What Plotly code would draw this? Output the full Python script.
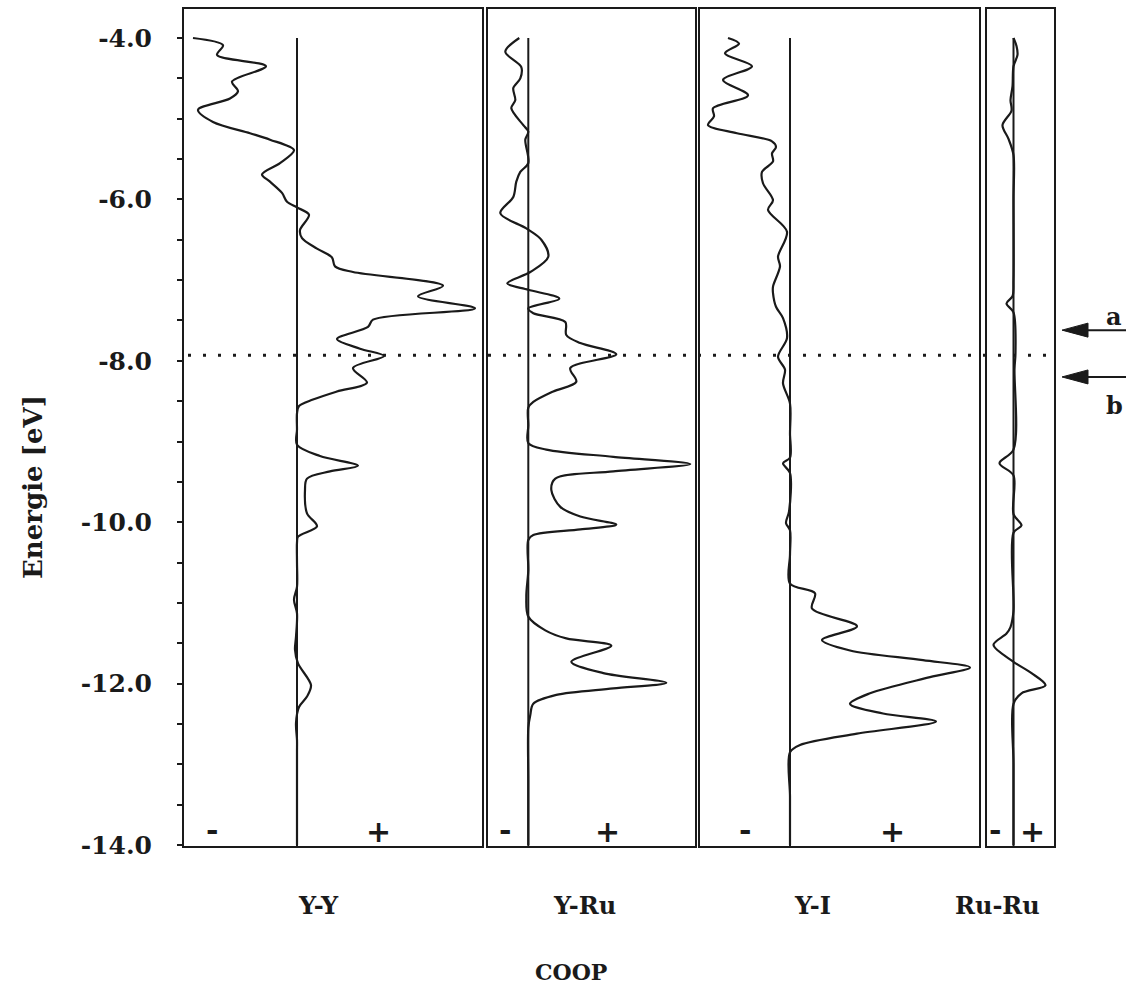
import plotly.graph_objects as go

W, H = 1132, 994

# ---------------- data (COOP in arbitrary units, energy in eV) ----------------
e_yy = [-4.00, -4.09, -4.21, -4.35, -4.54, -4.66, -4.75, -4.89, -5.04, -5.18, -5.26, -5.39,
        -5.55, -5.69, -5.78, -5.92, -6.03, -6.10, -6.19, -6.38, -6.48, -6.61, -6.72, -6.83,
        -6.90, -7.07, -7.20, -7.35, -7.49, -7.58, -7.73, -7.85, -7.94, -8.09, -8.27, -8.38,
        -8.48, -8.56, -8.65, -8.85, -9.04, -9.18, -9.30, -9.37, -9.46, -9.60, -9.89, -10.05,
        -10.18, -10.25, -10.50, -10.80, -10.96, -11.13, -11.42, -11.58, -11.75, -12.02, -12.16,
        -12.29, -12.49, -12.70, -12.85, -13.40, -14.00]
c_yy = [-1.04, -0.74, -0.80, -0.31, -0.65, -0.59, -0.67, -0.99, -0.84, -0.47, -0.27, -0.03,
        -0.17, -0.35, -0.27, -0.15, -0.10, 0.00, 0.12, 0.03, 0.05, 0.20, 0.35, 0.38,
        0.56, 1.46, 1.21, 1.78, 0.76, 0.71, 0.40, 0.63, 0.87, 0.56, 0.70, 0.40,
        0.16, 0.02, 0.00, 0.00, 0.00, 0.23, 0.61, 0.33, 0.10, 0.08, 0.10, 0.20,
        0.01, 0.00, 0.00, 0.00, -0.03, 0.00, -0.01, -0.02, 0.01, 0.14, 0.10,
        0.02, -0.01, 0.00, 0.00, 0.00, 0.00]

e_yru = [-4.00, -4.17, -4.36, -4.50, -4.62, -4.77, -4.87, -5.08, -5.16, -5.26, -5.55, -5.66,
         -5.78, -5.97, -6.17, -6.36, -6.50, -6.71, -6.90, -7.04, -7.12, -7.23, -7.35, -7.41,
         -7.52, -7.68, -7.78, -7.92, -8.09, -8.26, -8.38, -8.51, -8.58, -8.80, -9.02, -9.10,
         -9.19, -9.28, -9.37, -9.46, -9.60, -9.81, -9.93, -10.03, -10.09, -10.16, -10.22,
         -10.60, -10.92, -11.17, -11.34, -11.44, -11.53, -11.73, -11.87, -11.99, -12.06,
         -12.14, -12.25, -12.39, -12.55, -13.20, -14.00]
c_yru = [-0.09, -0.23, -0.07, -0.08, -0.15, -0.13, -0.17, -0.05, 0.00, -0.03, 0.00, -0.08,
         -0.12, -0.15, -0.28, -0.02, 0.13, 0.20, 0.02, -0.21, 0.00, 0.31, 0.00, 0.05,
         0.37, 0.38, 0.52, 0.88, 0.42, 0.48, 0.25, 0.05, 0.00, 0.00, 0.00, 0.18,
         0.85, 1.62, 0.85, 0.27, 0.23, 0.32, 0.52, 0.88, 0.52, 0.05, 0.00,
         0.00, -0.02, 0.00, 0.17, 0.38, 0.83, 0.43, 0.75, 1.38, 0.85,
         0.28, 0.05, 0.02, 0.00, 0.00, 0.00]

e_yi = [-4.00, -4.07, -4.19, -4.35, -4.52, -4.71, -4.87, -4.97, -5.08, -5.18, -5.28, -5.35,
        -5.43, -5.53, -5.66, -5.80, -6.01, -6.13, -6.40, -6.71, -6.83, -7.08, -7.16, -7.33,
        -7.47, -7.72, -7.95, -8.11, -8.28, -8.53, -8.90, -9.20, -9.27, -9.39, -9.87, -10.01,
        -10.10, -10.40, -10.76, -10.88, -11.07, -11.29, -11.46, -11.59, -11.71, -11.80, -11.92,
        -12.12, -12.25, -12.37, -12.47, -12.62, -12.76, -12.85, -13.40, -14.00]
c_yi = [-0.62, -0.51, -0.65, -0.38, -0.67, -0.42, -0.77, -0.76, -0.82, -0.53, -0.18, -0.14,
        -0.18, -0.17, -0.28, -0.27, -0.17, -0.22, -0.03, -0.12, -0.10, -0.17, -0.17, -0.14,
        -0.07, -0.03, -0.12, -0.05, -0.07, 0.00, 0.00, 0.00, -0.07, 0.00, -0.01, -0.04,
        0.00, 0.00, 0.00, 0.25, 0.22, 0.67, 0.32, 0.60, 1.33, 1.80, 1.40,
        0.80, 0.60, 0.93, 1.46, 0.67, 0.10, 0.00, 0.00, 0.00]

e_ruru = [-4.00, -4.10, -4.21, -4.35, -4.60, -4.77, -4.90, -5.08, -5.25, -5.45, -6.00, -7.00,
          -7.20, -7.29, -7.40, -7.90, -8.10, -9.10, -9.27, -9.42, -9.90, -10.04, -10.13,
          -11.10, -11.30, -11.38, -11.52, -11.73, -11.87, -12.02, -12.12, -12.25, -13.00, -14.00]
c_ruru = [0.00, 0.03, 0.04, 0.00, -0.01, -0.03, -0.02, -0.11, -0.05, 0.00, 0.00, 0.00,
          -0.01, -0.07, 0.00, 0.02, 0.01, 0.00, -0.14, 0.00, 0.00, 0.08, 0.00,
          0.00, -0.03, -0.07, -0.20, 0.00, 0.18, 0.32, 0.08, 0.00, 0.00, 0.00]

panel_names = ["Y-Y", "Y-Ru", "Y-I", "Ru-Ru"]
y_ticks = [-4.0, -6.0, -8.0, -10.0, -12.0, -14.0]
y_ticktext = ["-4.0", "-6.0", "-8.0", "-10.0", "-12.0", "-14.0"]
fermi_level = -7.93
arrow_levels = {"a": -7.62, "b": -8.20}
axis_title = "Energie [eV]"
x_title = "COOP"

# ---------------- layout geometry (pixels) ----------------
panels = [
    dict(E=e_yy, C=c_yy, left=184, right=482, zero=297, lbl_x=318, minus_x=212, plus_x=378),
    dict(E=e_yru, C=c_yru, left=487.5, right=694.5, zero=528.3, lbl_x=584, minus_x=505, plus_x=607),
    dict(E=e_yi, C=c_yi, left=700, right=978.5, zero=790, lbl_x=812, minus_x=745, plus_x=892),
    dict(E=e_ruru, C=c_ruru, left=986.7, right=1054, zero=1013.5, lbl_x=997, minus_x=995, plus_x=1032),
]
PX_PER_UNIT = 100.0
TOP, BOT = 9, 846          # pixel rows of panel frame
Y_PX_PER_EV = 80.7
Y_E0 = 38                  # pixel row of -4.0 eV
y_top = -4.0 + (Y_E0 - TOP) / Y_PX_PER_EV
y_bot = -4.0 - (BOT - Y_E0) / Y_PX_PER_EV

def pxx(x):
    return x / W

def pxy(y):
    return 1 - y / H

FONT = "DejaVu Serif"
INK = "#1a1a1a"

fig = go.Figure()
layout = dict(
    width=W, height=H, margin=dict(l=0, r=0, t=0, b=0, autoexpand=False),
    paper_bgcolor="white", plot_bgcolor="white", showlegend=False,
)

for i, p in enumerate(panels):
    k = "" if i == 0 else str(i + 1)
    xa, ya = "x" + k, "y" + k
    xr = [(p["left"] - p["zero"]) / PX_PER_UNIT, (p["right"] - p["zero"]) / PX_PER_UNIT]
    layout["xaxis" + k] = dict(
        domain=[pxx(p["left"]), pxx(p["right"])], range=xr, anchor=ya,
        showline=True, mirror=True, linecolor=INK, linewidth=2,
        showgrid=False, zeroline=False, showticklabels=False, ticks="",
        fixedrange=True, automargin=False,
    )
    yax = dict(
        domain=[pxy(BOT), pxy(TOP)], range=[y_bot, y_top], anchor=xa,
        showline=True, mirror=True, linecolor=INK, linewidth=2,
        showgrid=False, zeroline=False, fixedrange=True, automargin=False,
    )
    if i == 0:
        yax.update(
            tickmode="array", tickvals=y_ticks, ticktext=y_ticktext,
            ticks="outside", ticklen=5, tickwidth=2, tickcolor=INK,
            ticklabelstandoff=20,
            tickfont=dict(family=FONT, size=25, color=INK, weight="bold"),
            minor=dict(tickmode="linear", tick0=-14, dtick=0.5, ticks="outside",
                       ticklen=5, tickwidth=2, tickcolor=INK, showgrid=False),
        )
    else:
        yax.update(showticklabels=False, ticks="", matches="y")
    layout["yaxis" + k] = yax

    # zero line
    fig.add_trace(go.Scatter(x=[0, 0], y=[-4.0, y_bot], mode="lines",
                             line=dict(color=INK, width=2), xaxis=xa, yaxis=ya,
                             hoverinfo="skip"))
    # COOP curve
    fig.add_trace(go.Scatter(x=p["C"], y=p["E"], mode="lines",
                             line=dict(color=INK, width=2.2, shape="spline", smoothing=0.9),
                             xaxis=xa, yaxis=ya, name=panel_names[i]))

fig.update_layout(**layout)

def txt(x, y, s, size, yref="paper", angle=0):
    return dict(x=pxx(x), y=(pxy(y) if yref == "paper" else y), xref="paper", yref=yref,
                text=s, showarrow=False, xanchor="center", yanchor="middle", textangle=angle,
                font=dict(family=FONT, size=size, color=INK, weight="bold"))

annotations = []
for i, p in enumerate(panels):
    annotations.append(txt(p["lbl_x"], 905, panel_names[i], 24))
    annotations.append(txt(p["minus_x"], 829, "-", 30))
    annotations.append(txt(p["plus_x"], 831, "+", 30))

annotations.append(txt(571, 972, x_title, 22))
annotations.append(txt(33, 487, axis_title, 26, angle=-90))

shapes = [dict(type="line", xref="paper", yref="y", x0=pxx(188), x1=pxx(1048),
               y0=fermi_level, y1=fermi_level,
               line=dict(color=INK, width=3, dash="3px,12px"))]

head_h = 7 / Y_PX_PER_EV
for lab, lev in arrow_levels.items():
    tip, base, tail = 1062, 1088, 1126
    shapes.append(dict(type="line", xref="paper", yref="y", x0=pxx(base - 2), x1=pxx(tail),
                       y0=lev, y1=lev, line=dict(color=INK, width=2)))
    shapes.append(dict(type="path", xref="paper", yref="y",
                       path=f"M{pxx(tip)},{lev} L{pxx(base)},{lev + head_h} L{pxx(base)},{lev - head_h} Z",
                       fillcolor=INK, line=dict(color=INK, width=1)))
    ly = lev + 0.17 if lab == "a" else lev - 0.35
    d = txt(1114, 0, lab, 24)
    d["yref"] = "y"
    d["y"] = ly
    annotations.append(d)

fig.update_layout(annotations=annotations, shapes=shapes)
fig.write_html("out.html")
